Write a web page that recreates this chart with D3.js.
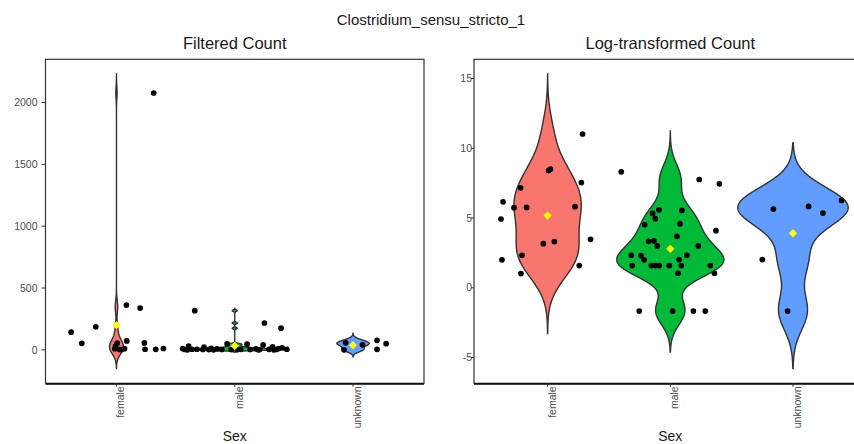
<!DOCTYPE html>
<html><head><meta charset="utf-8">
<script src="https://cdn.jsdelivr.net/npm/d3@7"></script>
<style>
body{margin:0;background:#fff}
svg{display:block;font-family:"Liberation Sans",Arial,sans-serif}
</style>
</head><body>
<svg id="chart" width="854" height="444"></svg>
<script>
// ---------------- data ----------------
const categories = ["female", "male", "unknown"];
const fillColors = ["#F8766D", "#00BA38", "#619CFF"];

const mainTitle = "Clostridium_sensu_stricto_1";
const panelTitles = ["Filtered Count", "Log-transformed Count"];
const xAxisTitle = "Sex";

// Filtered counts (left panel)
const femaleCount  = [2077, 362, 338, 186, 143, 72, 56, 54, 53, 30.5, 11.1, 9.9, 8.9, 5.0, 4.0, 3.0, 2.0];
const maleCount    = [317, 217, 175, 48, 40, 31, 46, 23, 24, 17, 13, 10, 10, 8, 8, 5, 5, 4, 5, 4,
                      3, 3, 3, 3, 3, 3, 3, 2, 2, 0.31, 0.31, 0.31, 0.31];
const unknownCount = [50, 57, 41, 77, 4, 0.31];

// Log-transformed counts (right panel)
const femaleLog  = [11.02, 8.5, 8.4, 7.54, 7.16, 6.16, 5.81, 5.76, 5.74, 4.93, 3.47, 3.31, 3.16, 2.33, 2.0, 1.59, 1.02];
const maleLog    = [8.31, 7.76, 7.45, 5.59, 5.33, 4.95, 5.54, 4.52, 4.59, 4.09, 3.69, 3.33, 3.36, 3.0, 3.0,
                    2.33, 2.31, 2.0, 2.33, 2.02, 1.59, 1.59, 1.59, 1.59, 1.59, 1.59, 1.59, 1.04, 1.04,
                    -1.67, -1.67, -1.67, -1.67];
const unknownLog = [5.64, 5.83, 5.36, 6.26, 2.02, -1.67];

// horizontal jitter (fraction of category step)
const femaleCountJitter  = [0.315, 0.084, 0.2, -0.175, -0.383, 0.087, 0.236, 0.006, -0.293, -0.008, 0.397, 0.068, -0.014, 0.242, 0.332, 0.025, 0.042];
const maleCountJitter    = [-0.338, 0.251, 0.391, -0.065, 0.24, -0.39, 0.104, -0.26, 0.32, 0.40, -0.2, 0.37, -0.44, 0.18, -0.15,
                            0.44, -0.32, 0.05, -0.36, 0.29, -0.42, -0.27, -0.11, 0.13, 0.21, 0.35, -0.03, -0.22, 0.02,
                            -0.4, 0.2, -0.18, 0.33];
const unknownCountJitter = [0.28, -0.062, 0.08, 0.203, 0.203, -0.076];

const femaleLogJitter  = [0.285, 0.022, 0.008, 0.275, -0.22, -0.363, 0.223, -0.171, -0.274, -0.38, 0.35, 0.055, -0.035, -0.209, -0.372, 0.258, -0.217];
const maleLogJitter    = [-0.40, 0.236, 0.40, -0.092, -0.144, -0.122, 0.095, -0.209, 0.079, 0.372, 0.054, -0.177, -0.133, -0.106, 0.228,
                          -0.318, -0.239, -0.214, 0.136, 0.071, -0.31, -0.155, -0.122, -0.09, -0.008, 0.09, 0.326, 0.063, 0.36,
                          -0.253, 0.019, 0.188, 0.285];
const unknownLogJitter = [-0.16, 0.127, 0.244, 0.396, -0.25, -0.044];

const countTicks = [0, 500, 1000, 1500, 2000];
const logTicks = [-5, 0, 5, 10, 15];

// ---------------- helpers ----------------
function bwNrd0(v) {
  const s = d3.sort(v);
  const sd = d3.deviation(v);
  const iqr = d3.quantile(s, 0.75) - d3.quantile(s, 0.25);
  let lo = Math.min(sd, iqr / 1.34);
  if (!(lo > 0)) lo = sd || Math.abs(s[0]) || 1;
  return 0.9 * lo * Math.pow(v.length, -0.2);
}
function kde(v) {
  const bw = bwNrd0(v);
  const lo = d3.min(v) - 3 * bw, hi = d3.max(v) + 3 * bw;
  const n = 512, pts = [];
  const c = 1 / (bw * Math.sqrt(2 * Math.PI));
  for (let i = 0; i < n; i++) {
    const y = lo + (hi - lo) * i / (n - 1);
    const d = d3.mean(v, x => Math.exp(-0.5 * ((y - x) / bw) ** 2)) * c;
    pts.push({ y, d });
  }
  return { bw, lo, hi, pts };
}

const svg = d3.select("#chart");
const textCol = "#1a1a1a", tickCol = "#4d4d4d";

svg.append("text").attr("x", 431).attr("y", 24.5).attr("text-anchor", "middle")
  .attr("font-size", 15).attr("fill", textCol).text(mainTitle);

function drawPanel(p) {
  const g = svg.append("g");
  const dens = p.groups.map(kde);
  const lo = d3.min(dens, d => d.lo), hi = d3.max(dens, d => d.hi);
  const pad = (hi - lo) * 0.05;
  const y = d3.scaleLinear().domain([lo - pad, hi + pad]).range([p.y1, p.y0]);
  const x = d3.scalePoint().domain(categories).range([p.x0, p.x1]).padding(0.6);
  const step = x.step();
  const maxD = d3.max(dens, d => d3.max(d.pts, q => q.d));
  const halfMax = 0.45 * step;

  // violins
  dens.forEach((d, i) => {
    const cx = x(categories[i]);
    const area = d3.area()
      .y(q => y(q.y))
      .x0(q => cx - q.d / maxD * halfMax)
      .x1(q => cx + q.d / maxD * halfMax);
    g.append("path").attr("d", area(d.pts))
      .attr("fill", fillColors[i]).attr("stroke", "#333").attr("stroke-width", 1.4);
  });
  // jittered points
  p.groups.forEach((vals, i) => {
    const cx = x(categories[i]);
    g.append("g").selectAll("circle").data(vals).join("circle")
      .attr("cx", (v, k) => cx + p.jitters[i][k] * step)
      .attr("cy", v => y(v)).attr("r", 2.85).attr("fill", "#000");
  });
  // means
  p.groups.forEach((vals, i) => {
    const cx = x(categories[i]);
    g.append("path").attr("d", d3.symbol(d3.symbolSquare, 34)())
      .attr("transform", `translate(${cx},${y(d3.mean(vals))}) rotate(45)`)
      .attr("fill", "#FFFF00");
  });
  // border
  g.append("rect").attr("x", p.x0).attr("y", p.y0).attr("width", p.x1 - p.x0).attr("height", p.y1 - p.y0)
    .attr("fill", "none").attr("stroke", "#333").attr("stroke-width", 1.2);
  g.append("line").attr("x1", p.x0).attr("x2", p.x1).attr("y1", p.y1 + 0.7).attr("y2", p.y1 + 0.7)
    .attr("stroke", "#000").attr("stroke-width", 1.3);

  // y axis
  p.ticks.forEach(t => {
    g.append("line").attr("x1", p.x0 - p.tickLen).attr("x2", p.x0).attr("y1", y(t)).attr("y2", y(t))
      .attr("stroke", "#333").attr("stroke-width", 1);
    g.append("text").attr("x", p.labelX).attr("y", y(t)).attr("dy", "0.35em")
      .attr("text-anchor", "end").attr("font-size", 10.5).attr("fill", tickCol).text(t);
  });
  // x axis
  categories.forEach(c => {
    const cx = x(c);
    g.append("line").attr("x1", cx).attr("x2", cx).attr("y1", p.y1).attr("y2", p.y1 + 3.5)
      .attr("stroke", "#333").attr("stroke-width", 1);
    g.append("text").attr("transform", `translate(${cx + 8},${p.y1 + 3}) rotate(-90)`)
      .attr("text-anchor", "end").attr("font-size", 10.5).attr("fill", tickCol).text(c);
  });
  const mid = (p.x0 + p.x1) / 2;
  g.append("text").attr("x", mid).attr("y", 48.5).attr("text-anchor", "middle")
    .attr("font-size", 16.5).attr("fill", textCol).text(p.title);
  g.append("text").attr("x", mid).attr("y", 440.5).attr("text-anchor", "middle")
    .attr("font-size", 14).attr("fill", textCol).text(xAxisTitle);
}

drawPanel({
  x0: 45.5, x1: 424, y0: 59.3, y1: 383.3,
  groups: [femaleCount, maleCount, unknownCount],
  jitters: [femaleCountJitter, maleCountJitter, unknownCountJitter],
  ticks: countTicks, tickLen: 4, labelX: 37.5, title: panelTitles[0]
});
drawPanel({
  x0: 474, x1: 866.6, y0: 59.3, y1: 383.3,
  groups: [femaleLog, maleLog, unknownLog],
  jitters: [femaleLogJitter, maleLogJitter, unknownLogJitter],
  ticks: logTicks, tickLen: 3, labelX: 472, title: panelTitles[1]
});
</script>
</body></html>
